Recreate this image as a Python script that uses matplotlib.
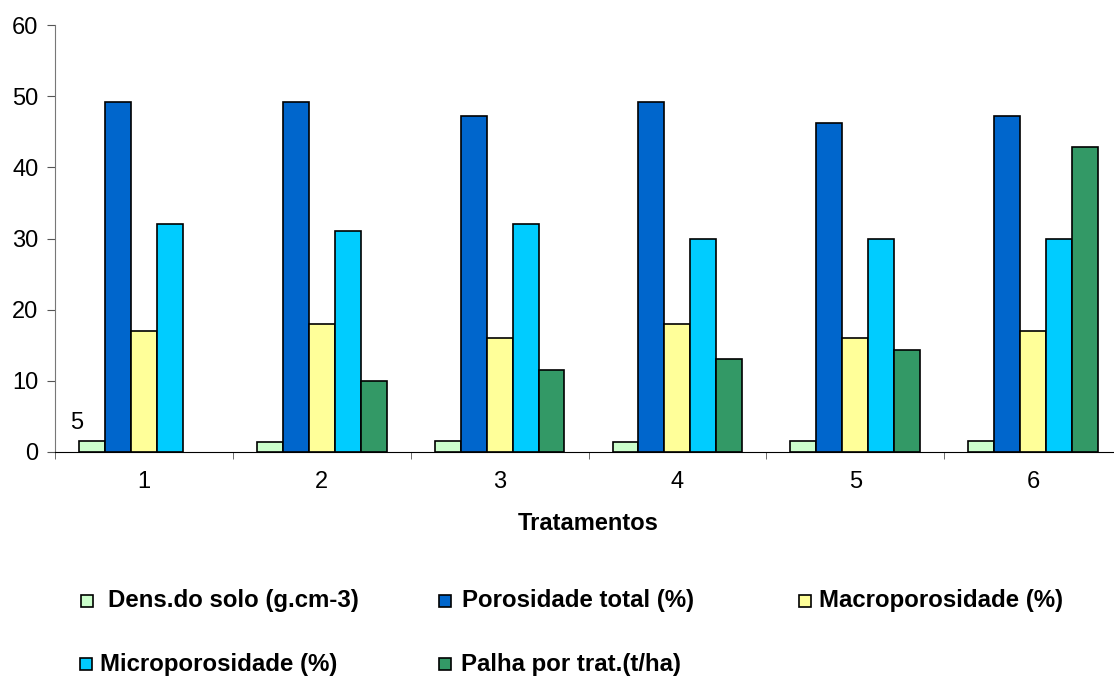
import matplotlib.pyplot as plt
from matplotlib.patches import Rectangle
import numpy as np

plt.rcParams['font.family'] = ['Liberation Sans', 'DejaVu Sans']

tratamentos = ['1', '2', '3', '4', '5', '6']

dens_solo = [1.6, 1.35, 1.6, 1.35, 1.6, 1.6]
porosidade_total = [49.2, 49.2, 47.2, 49.2, 46.2, 47.2]
macroporosidade = [17.0, 18.0, 16.0, 18.0, 16.0, 17.0]
microporosidade = [32.0, 31.0, 32.0, 30.0, 30.0, 30.0]
palha = [0.0, 10.0, 11.5, 13.0, 14.3, 42.9]

series_names = ['Dens.do solo (g.cm-3)', 'Porosidade total (%)', 'Macroporosidade (%)',
                'Microporosidade (%)', 'Palha por trat.(t/ha)']
series_values = [dens_solo, porosidade_total, macroporosidade, microporosidade, palha]
colors = ['#CCFFCC', '#0066CC', '#FFFF99', '#00CCFF', '#339966']

fs = 17

fig = plt.figure(figsize=(11.14, 6.8), dpi=100)
ax = fig.add_axes([55 / 1114, 1 - 452 / 680, 1067 / 1114, 427 / 680])

x = np.arange(1, len(tratamentos) + 1)
w = 0.146
for i, (vals, c) in enumerate(zip(series_values, colors)):
    lw = [0 if v == 0 else 1.2 for v in vals]
    ax.bar(x + (i - 2) * w, vals, width=w, color=c, edgecolor='black', linewidth=lw)

# stray value label over the first density bar
ax.annotate('5', (x[0] - 2 * w, dens_solo[0]), xytext=(-11, 13), textcoords='offset points',
            ha='center', va='center', fontsize=fs)

ax.set_xlim(0.5, 6.5)
ax.set_ylim(0, 60)
ax.set_yticks(range(0, 61, 10))
ax.set_xticks(x)
ax.set_xticklabels(tratamentos, fontsize=fs)
ax.set_xticks(np.arange(0.5, 7, 1), minor=True)
ax.tick_params(axis='x', which='major', length=0, pad=14)
ax.tick_params(axis='x', which='minor', length=5, color='#555555')
ax.tick_params(axis='y', length=6, labelsize=fs, color='#555555', pad=6)
for s in ['top', 'right']:
    ax.spines[s].set_visible(False)
ax.spines['left'].set_color('#777777')
ax.spines['bottom'].set_color('black')
ax.set_xlabel('Tratamentos', fontsize=fs, fontweight='bold', labelpad=13)

# legend drawn in two rows: (square x, text x, y) in pixels
leg_pos = [(81, 108, 601), (439, 462, 601), (799, 819, 601),
           (80, 100, 664), (439, 461, 664)]
for (sx, tx, py), name, c in zip(leg_pos, series_names, colors):
    fig.patches.append(Rectangle((sx / 1114, 1 - (py + 6) / 680), 12 / 1114, 12 / 680,
                                 transform=fig.transFigure, facecolor=c,
                                 edgecolor='black', linewidth=1.2))
    fig.text(tx / 1114, 1 - py / 680, name, fontsize=17.3, fontweight='bold',
             va='center', ha='left')

fig.savefig('out.png', dpi=100)
